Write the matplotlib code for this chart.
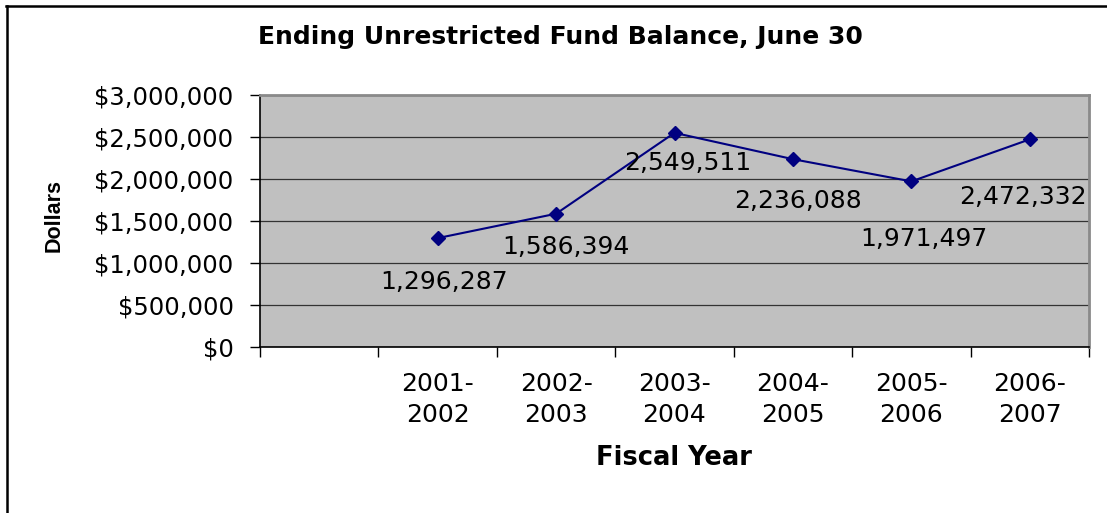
import matplotlib
matplotlib.use("Agg")
import matplotlib.pyplot as plt
from matplotlib.ticker import FuncFormatter, FixedLocator, MultipleLocator
from matplotlib.lines import Line2D

# ---- data ----
categories = ["", "2001-\n2002", "2002-\n2003", "2003-\n2004", "2004-\n2005", "2005-\n2006", "2006-\n2007"]
balances = [None, 1296287, 1586394, 2549511, 2236088, 1971497, 2472332]
title = "Ending Unrestricted Fund Balance, June 30"
xlabel = "Fiscal Year"
ylabel = "Dollars"

# label offsets (pixels: dx, dy downward) relative to each point
label_offsets = [None, (6, 44), (10, 33), (13, 30), (5, 42), (13, 58), (-7, 58)]

W, H = 1107, 513
fig = plt.figure(figsize=(W / 100, H / 100), dpi=100)
fig.patch.set_facecolor("white")

# partial frame (top and left edges visible)
fig.add_artist(Line2D([6 / W, 1.0], [1 - 6 / H, 1 - 6 / H], transform=fig.transFigure, color="black", lw=1.8))
fig.add_artist(Line2D([7 / W, 7 / W], [0, 1 - 6 / H], transform=fig.transFigure, color="black", lw=1.8))

ax = fig.add_axes([260 / W, (H - 347) / H, (1089 - 260) / W, (347 - 95) / H])
ax.set_facecolor("#C0C0C0")

xs = [i for i, v in enumerate(balances) if v is not None]
ys = [v for v in balances if v is not None]
ax.plot(xs, ys, color="#000080", lw=1.5, marker="D", markersize=7, zorder=3, clip_on=False)

ax.set_xlim(-0.5, len(categories) - 0.5)
ax.set_ylim(0, 3000000)
ax.yaxis.set_major_locator(MultipleLocator(500000))
ax.yaxis.set_major_formatter(FuncFormatter(lambda v, p: "${:,.0f}".format(v)))
ax.grid(axis="y", color="#333333", lw=0.9, zorder=1)
ax.set_axisbelow(True)

# x ticks at category boundaries, labels at centers
ax.xaxis.set_major_locator(FixedLocator([i - 0.5 for i in range(len(categories) + 1)]))
ax.xaxis.set_major_formatter(FuncFormatter(lambda v, p: ""))
ax.xaxis.set_minor_locator(FixedLocator(list(range(len(categories)))))
ax.set_xticklabels(categories, minor=True)
ax.tick_params(axis="x", which="major", length=7, width=1, color="black", direction="out")
ax.tick_params(axis="x", which="minor", length=0, pad=18, labelsize=18)
ax.tick_params(axis="y", length=7, width=1, color="black", direction="out", pad=12, labelsize=17.5)
for lab in ax.get_xticklabels(minor=True):
    lab.set_linespacing(1.35)

for s in ["left", "bottom"]:
    ax.spines[s].set_color("black")
    ax.spines[s].set_linewidth(1.2)
for s in ["top", "right"]:
    ax.spines[s].set_color("#8A8A8A")
    ax.spines[s].set_linewidth(2)

# data labels
for x, v, off in zip(range(len(balances)), balances, label_offsets):
    if v is None:
        continue
    ax.annotate("{:,}".format(v), (x, v), xytext=(off[0] * 0.72, -off[1] * 0.72),
                textcoords="offset points", ha="center", va="center", fontsize=18,
                color="black", zorder=4, annotation_clip=False)

fig.text(560 / W, 1 - 37 / H, title, ha="center", va="center", fontsize=18, fontweight="bold")
fig.text(674 / W, 1 - 458 / H, xlabel, ha="center", va="center", fontsize=18.5, fontweight="bold")
fig.text(54 / W, 1 - 216 / H, ylabel, ha="center", va="center", fontsize=15.5, fontweight="bold",
         rotation=90, family="Liberation Sans")

fig.savefig("out.png", dpi=100)
